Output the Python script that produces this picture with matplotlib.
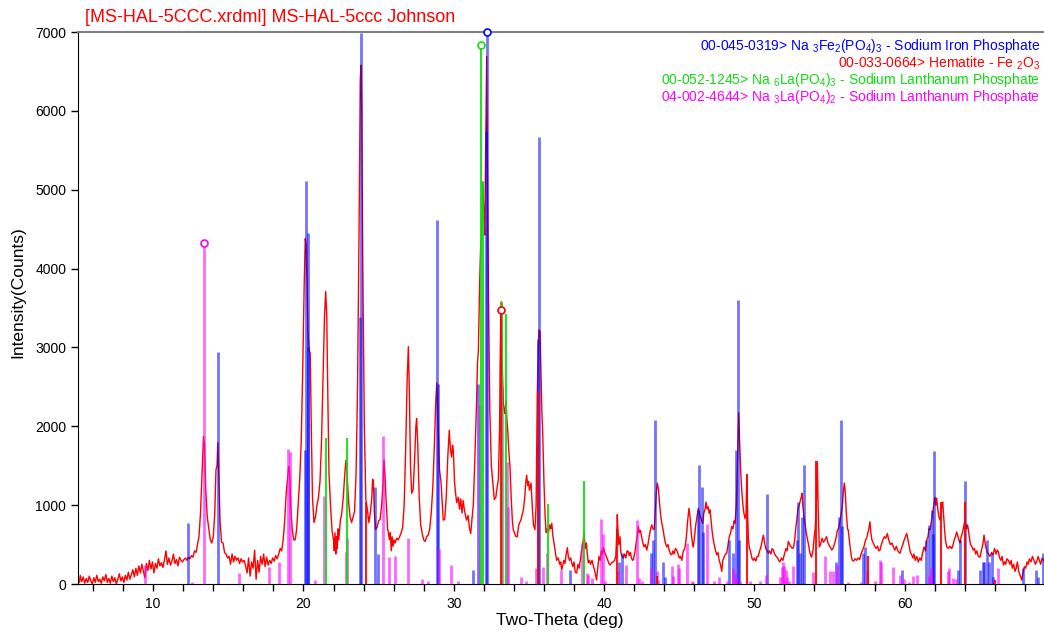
#Draw_xrd_pattern
import matplotlib.pyplot as plt

plt.rcParams['font.family'] = ['Liberation Sans', 'DejaVu Sans']
plt.rcParams['mathtext.fontset'] = 'custom'
plt.rcParams['mathtext.rm'] = 'Liberation Sans'
plt.rcParams['mathtext.default'] = 'rm'
plt.rcParams['axes.unicode_minus'] = False

################  measured pattern (two-theta, counts)
obs_tth = [5.0, 5.1, 5.15, 5.25, 5.35, 5.45, 5.55, 5.65, 5.75, 5.85, 5.95, 6.05, 6.15, 6.25, 6.35, 6.45,
           6.55, 6.65, 6.75, 6.85, 6.95, 7.05, 7.15, 7.25, 7.35, 7.45, 7.55, 7.65, 7.75, 7.85, 7.95, 8.05,
           8.15, 8.25, 8.35, 8.45, 8.55, 8.65, 8.75, 8.85, 8.95, 9.05, 9.15, 9.25, 9.35, 9.45, 9.55, 9.65,
           9.75, 9.85, 9.95, 10.05, 10.15, 10.25, 10.35, 10.45, 10.55, 10.65, 10.75, 10.85, 10.95, 11.05,
           11.15, 11.25, 11.35, 11.45, 11.55, 11.65, 11.75, 11.85, 11.95, 12.05, 12.15, 12.25, 12.35, 12.45,
           12.55, 12.65, 12.75, 12.85, 12.95, 13.05, 13.15, 13.25, 13.35, 13.42, 13.5, 13.6, 13.7, 13.8,
           13.9, 14.0, 14.1, 14.18, 14.25, 14.3, 14.38, 14.45, 14.55, 14.65, 14.75, 14.85, 14.95, 15.05,
           15.15, 15.25, 15.35, 15.45, 15.55, 15.65, 15.75, 15.85, 15.95, 16.05, 16.15, 16.25, 16.35, 16.45,
           16.55, 16.65, 16.75, 16.85, 16.95, 17.05, 17.15, 17.25, 17.35, 17.45, 17.55, 17.65, 17.75, 17.85,
           17.95, 18.05, 18.15, 18.25, 18.35, 18.45, 18.55, 18.65, 18.75, 18.85, 18.95, 19.02, 19.08, 19.15,
           19.25, 19.35, 19.45, 19.55, 19.65, 19.75, 19.85, 19.95, 20.05, 20.12, 20.18, 20.25, 20.3, 20.37,
           20.45, 20.52, 20.6, 20.7, 20.8, 20.9, 21.0, 21.1, 21.2, 21.3, 21.4, 21.48, 21.55, 21.62,
           21.7, 21.8, 21.9, 22.0, 22.05, 22.1, 22.15, 22.2, 22.25, 22.3, 22.35, 22.45, 22.55, 22.65,
           22.75, 22.83, 22.9, 23.0, 23.1, 23.2, 23.3, 23.4, 23.5, 23.6, 23.7, 23.78, 23.83, 23.88,
           23.95, 24.05, 24.15, 24.25, 24.35, 24.45, 24.55, 24.6, 24.65, 24.72, 24.8, 24.9, 25.0, 25.1,
           25.2, 25.3, 25.36, 25.42, 25.5, 25.6, 25.65, 25.72, 25.78, 25.84, 25.9, 25.96, 26.02, 26.1,
           26.2, 26.3, 26.4, 26.5, 26.6, 26.7, 26.8, 26.9, 26.98, 27.05, 27.12, 27.2, 27.3, 27.4,
           27.48, 27.53, 27.6, 27.7, 27.8, 27.9, 28.0, 28.1, 28.2, 28.3, 28.4, 28.5, 28.6, 28.7,
           28.8, 28.87, 28.95, 29.05, 29.15, 29.3, 29.4, 29.5, 29.6, 29.7, 29.78, 29.86, 29.92, 29.97,
           30.05, 30.12, 30.2, 30.3, 30.38, 30.46, 30.55, 30.62, 30.7, 30.8, 30.86, 30.95, 31.05, 31.13,
           31.2, 31.3, 31.4, 31.5, 31.58, 31.64, 31.72, 31.79, 31.85, 31.93, 32.0, 32.06, 32.12, 32.19,
           32.25, 32.32, 32.4, 32.5, 32.6, 32.7, 32.8, 32.9, 32.97, 33.05, 33.1, 33.15, 33.22, 33.3,
           33.37, 33.41, 33.48, 33.53, 33.59, 33.66, 33.74, 33.82, 33.9, 33.96, 34.05, 34.15, 34.23, 34.3,
           34.36, 34.45, 34.55, 34.63, 34.72, 34.8, 34.85, 34.92, 34.98, 35.03, 35.1, 35.14, 35.22, 35.3,
           35.4, 35.48, 35.56, 35.62, 35.67, 35.74, 35.8, 35.86, 35.92, 36.0, 36.07, 36.14, 36.22, 36.3,
           36.38, 36.45, 36.52, 36.6, 36.67, 36.74, 36.8, 36.85, 36.95, 37.05, 37.12, 37.18, 37.25, 37.32,
           37.4, 37.48, 37.56, 37.62, 37.7, 37.78, 37.85, 37.92, 38.0, 38.08, 38.18, 38.26, 38.34, 38.42,
           38.5, 38.58, 38.67, 38.75, 38.82, 38.9, 38.95, 39.02, 39.1, 39.2, 39.3, 39.4, 39.5, 39.58,
           39.66, 39.74, 39.82, 39.9, 39.95, 40.05, 40.15, 40.25, 40.32, 40.4, 40.5, 40.6, 40.7, 40.78,
           40.84, 40.88, 40.92, 40.98, 41.06, 41.12, 41.2, 41.28, 41.36, 41.45, 41.53, 41.61, 41.68, 41.75,
           41.82, 41.9, 41.95, 42.05, 42.12, 42.2, 42.28, 42.35, 42.42, 42.5, 42.58, 42.66, 42.74, 42.84,
           42.92, 43.0, 43.08, 43.17, 43.25, 43.33, 43.4, 43.47, 43.54, 43.62, 43.7, 43.78, 43.84, 43.92,
           44.0, 44.08, 44.17, 44.25, 44.33, 44.42, 44.5, 44.58, 44.66, 44.75, 44.83, 44.92, 45.0, 45.08,
           45.17, 45.25, 45.32, 45.39, 45.48, 45.56, 45.65, 45.72, 45.8, 45.88, 45.94, 46.02, 46.1, 46.18,
           46.27, 46.34, 46.42, 46.5, 46.56, 46.64, 46.72, 46.78, 46.85, 46.92, 47.0, 47.05, 47.12, 47.2,
           47.27, 47.35, 47.42, 47.5, 47.58, 47.66, 47.74, 47.83, 47.9, 48.0, 48.08, 48.16, 48.25, 48.33,
           48.42, 48.5, 48.58, 48.65, 48.71, 48.8, 48.88, 48.96, 49.02, 49.1, 49.16, 49.24, 49.3, 49.38,
           49.45, 49.5, 49.55, 49.6, 49.68, 49.76, 49.85, 49.93, 50.0, 50.1, 50.18, 50.26, 50.35, 50.45,
           50.52, 50.6, 50.68, 50.76, 50.85, 50.93, 51.0, 51.1, 51.18, 51.26, 51.35, 51.45, 51.55, 51.62,
           51.7, 51.8, 51.9, 52.0, 52.1, 52.18, 52.26, 52.35, 52.45, 52.53, 52.6, 52.68, 52.75, 52.82,
           52.9, 52.98, 53.05, 53.12, 53.18, 53.22, 53.3, 53.37, 53.45, 53.52, 53.6, 53.7, 53.8, 53.9,
           53.98, 54.05, 54.12, 54.19, 54.25, 54.32, 54.4, 54.5, 54.6, 54.7, 54.8, 54.9, 55.0, 55.08,
           55.15, 55.25, 55.35, 55.45, 55.52, 55.6, 55.7, 55.78, 55.86, 55.93, 55.99, 56.05, 56.12, 56.2,
           56.25, 56.35, 56.45, 56.52, 56.6, 56.7, 56.8, 56.9, 57.0, 57.1, 57.2, 57.3, 57.4, 57.47,
           57.55, 57.62, 57.69, 57.75, 57.82, 57.91, 58.0, 58.1, 58.2, 58.28, 58.36, 58.45, 58.55, 58.65,
           58.75, 58.85, 58.95, 59.05, 59.15, 59.25, 59.35, 59.45, 59.55, 59.62, 59.69, 59.78, 59.88, 59.95,
           60.05, 60.14, 60.22, 60.3, 60.38, 60.47, 60.55, 60.62, 60.7, 60.8, 60.91, 61.0, 61.1, 61.2,
           61.29, 61.38, 61.46, 61.55, 61.62, 61.69, 61.78, 61.86, 61.94, 62.02, 62.08, 62.13, 62.2, 62.28,
           62.36, 62.42, 62.48, 62.53, 62.58, 62.65, 62.72, 62.8, 62.9, 63.0, 63.08, 63.13, 63.22, 63.3,
           63.38, 63.46, 63.55, 63.62, 63.68, 63.76, 63.84, 63.92, 64.01, 64.06, 64.12, 64.18, 64.23, 64.3,
           64.38, 64.46, 64.56, 64.65, 64.72, 64.8, 64.9, 65.01, 65.1, 65.2, 65.28, 65.35, 65.42, 65.5,
           65.58, 65.68, 65.78, 65.88, 65.98, 66.08, 66.16, 66.23, 66.32, 66.4, 66.48, 66.57, 66.65, 66.72,
           66.8, 66.9, 67.0, 67.08, 67.16, 67.25, 67.34, 67.42, 67.5, 67.6, 67.7, 67.79, 67.88, 67.96,
           68.05, 68.14, 68.22, 68.3, 68.4, 68.5, 68.6, 68.7, 68.79, 68.88, 68.96, 69.05, 69.15, 69.23,
           69.3]
obs_cnt = [60, 20, 110, 30, 90, 10, 70, 20, 100, 40, 0, 80, 20, 110, 30, 60,
           10, 90, 40, 120, 20, 70, 10, 100, 30, 80, 0, 60, 130, 40, 90, 20,
           110, 50, 150, 60, 120, 180, 90, 200, 110, 230, 140, 250, 160, 80, 260, 170,
           300, 190, 280, 140, 260, 200, 320, 230, 270, 210, 300, 420, 250, 330,
           240, 290, 380, 260, 310, 230, 340, 300, 280, 310, 330, 300, 340, 320,
           360, 340, 420, 400, 500, 600, 900, 1400, 1870, 1750, 1200, 850, 700, 560,
           520, 600, 900, 1450, 1500, 1790, 1300, 800, 530, 520, 400, 380, 330, 350,
           250, 380, 280, 350, 300, 330, 260, 320, 280, 300, 230, 140, 330, 100,
           280, 200, 430, 60, 300, 150, 350, 250, 380, 220, 340, 240, 300, 260,
           330, 290, 360, 320, 380, 450, 420, 560, 800, 1150, 1350, 1490, 1420, 1000,
           700, 560, 560, 700, 1000, 1320, 1800, 2700, 3800, 4380, 4300, 3700, 3200, 2970,
           2930, 2000, 1100, 780, 850, 1000, 1100, 1300, 1800, 2600, 3400, 3710, 3400, 2400,
           1400, 1000, 680, 560, 420, 650, 380, 600, 450, 700, 560, 800, 900, 1100,
           1400, 1570, 1400, 1050, 850, 780, 850, 920, 1400, 2500, 4500, 6400, 6580, 6000,
           4000, 2000, 1070, 950, 780, 900, 1100, 1330, 1300, 900, 690, 720, 800, 820,
           1000, 1300, 1570, 1400, 1050, 700, 650, 560, 650, 420, 600, 480, 560, 520,
           580, 560, 600, 650, 720, 1000, 1700, 2600, 3010, 2400, 1500, 1150, 1200, 1600,
           2000, 2100, 1800, 1100, 750, 640, 560, 540, 600, 620, 700, 900, 1200, 1700,
           2300, 2550, 2100, 1450, 1300, 810, 820, 1100, 1600, 1950, 1700, 1610, 1760, 1700,
           1300, 1150, 1030, 1100, 950, 1080, 900, 1060, 950, 850, 810, 870, 700, 640,
           800, 1000, 1570, 2200, 2800, 2970, 3800, 4280, 4400, 5100, 4700, 4425, 5500, 6690,
           5000, 3500, 2200, 1500, 1280, 1070, 1100, 1250, 1320, 2000, 3000, 3580, 2800, 2290,
           2200, 2160, 2330, 2100, 1950, 1700, 1490, 1100, 800, 690, 640, 600, 600, 720,
           770, 800, 880, 940, 1100, 1300, 1380, 1250, 1300, 1190, 1250, 1280, 1000, 750,
           690, 1000, 2420, 3000, 3220, 3200, 2700, 2200, 1900, 1300, 900, 650, 700, 650,
           750, 700, 770, 600, 520, 430, 350, 300, 330, 250, 280, 180, 230, 300,
           260, 380, 460, 350, 300, 330, 270, 220, 280, 150, 140, 250, 200, 300,
           420, 500, 650, 450, 520, 350, 270, 300, 250, 300, 220, 150, 50, 200,
           350, 300, 420, 380, 460, 400, 350, 300, 260, 240, 270, 280, 300, 350,
           600, 880, 700, 500, 600, 400, 350, 330, 380, 330, 420, 410, 360, 400,
           330, 300, 310, 400, 500, 600, 730, 650, 680, 600, 520, 470, 500, 430,
           500, 600, 680, 750, 700, 690, 900, 1150, 1280, 1200, 1000, 850, 770, 700,
           600, 520, 470, 500, 430, 380, 370, 420, 380, 450, 430, 380, 330, 350,
           300, 400, 430, 470, 600, 800, 960, 850, 650, 520, 470, 600, 750, 850,
           960, 900, 850, 800, 770, 900, 950, 1040, 950, 980, 900, 940, 800, 650,
           560, 480, 420, 370, 400, 300, 250, 160, 300, 350, 380, 390, 500, 600,
           650, 730, 700, 800, 770, 1000, 1600, 2170, 1800, 1400, 1190, 1000, 900, 830,
           900, 1380, 900, 560, 450, 400, 320, 300, 330, 290, 350, 350, 420, 480,
           550, 620, 520, 450, 420, 390, 420, 380, 450, 430, 380, 350, 330, 300,
           280, 330, 300, 380, 450, 420, 540, 500, 470, 450, 460, 550, 700, 810,
           950, 1000, 1050, 1100, 1150, 1000, 850, 770, 650, 580, 500, 390, 340, 420,
           600, 700, 1000, 1550, 900, 470, 500, 580, 530, 560, 600, 520, 480, 460,
           430, 460, 520, 600, 680, 700, 800, 900, 1000, 1200, 1280, 1150, 900, 700,
           680, 500, 350, 300, 290, 320, 300, 330, 310, 380, 430, 480, 560, 580,
           650, 700, 790, 650, 560, 520, 480, 450, 480, 420, 430, 500, 560, 600,
           580, 640, 550, 500, 520, 470, 430, 480, 420, 400, 390, 450, 500, 550,
           600, 640, 560, 480, 400, 370, 330, 380, 300, 350, 280, 330, 300, 400,
           470, 420, 550, 600, 700, 690, 800, 900, 1000, 1100, 1000, 1090, 950, 850,
           810, 900, 1000, 1040, 900, 700, 550, 470, 450, 480, 460, 450, 500, 560,
           600, 660, 600, 550, 520, 600, 650, 720, 810, 750, 700, 750, 700, 600,
           500, 480, 430, 450, 380, 420, 350, 340, 420, 500, 620, 520, 450, 400,
           380, 350, 400, 370, 450, 380, 430, 410, 330, 300, 350, 240, 280, 250,
           320, 300, 250, 300, 200, 250, 160, 200, 280, 150, 100, 50, 150, 220,
           200, 280, 250, 320, 280, 350, 300, 250, 290, 350, 300, 250, 330, 300,
           280]

################  reference patterns (stick positions / heights)
# 00-045-0319  Na3Fe2(PO4)3
nfp_tth = [12.35, 14.3, 20.12, 20.2, 20.27, 20.33, 23.76, 23.82, 24.76, 24.98, 28.87, 28.93,
           31.3, 31.64, 32.15, 32.2, 35.6, 35.65, 37.75, 41.02, 41.17, 43.12, 43.28, 43.39,
           43.95, 44.06, 46.27, 46.34, 46.5, 46.56, 48.33, 48.6, 48.78, 48.93, 49.0, 50.82,
           52.82, 52.89, 53.03, 53.14, 53.28, 55.43, 55.63, 55.76, 55.85, 57.25, 57.36, 59.8,
           61.42, 61.64, 61.8, 61.87, 61.97, 63.53, 63.68, 63.99, 65.01, 65.23, 65.3, 65.46,
           65.6, 65.84, 65.9, 67.9, 68.74, 68.9, 69.23]
nfp_int = [770, 2940, 1700, 5110, 3000, 4450, 3390, 6990, 1230, 380, 4620, 2540,
           180, 2540, 5750, 7000, 3110, 5670, 180, 280, 390, 390, 560, 2080,
           280, 90, 940, 1510, 1230, 660, 560, 390, 1700, 3600, 560, 1140,
           560, 1040, 390, 850, 1510, 280, 850, 2080, 730, 390, 470, 180,
           560, 750, 940, 640, 1690, 180, 560, 1310, 180, 280, 280, 560,
           280, 390, 90, 200, 180, 90, 390]

# 00-033-0664  Hematite
hem_tth = [24.14, 33.15, 35.61, 40.85, 43.52, 49.48, 54.09, 57.59, 62.45, 64.02, 66.03]
hem_int = [1040, 3470, 2430, 700, 100, 1390, 1560, 350, 1040, 1040, 50]

# 00-052-1245  Na6La(PO4)3
n6l_tth = [21.48, 22.87, 31.81, 31.93, 33.19, 33.48, 36.29, 38.69]
n6l_int = [1850, 1850, 6840, 5100, 3580, 3430, 1020, 1300]

# 04-002-4644  Na3La(PO4)2
n3l_tth = [9.46, 12.6, 13.38, 15.71, 17.73, 18.35, 18.95, 19.1, 20.8, 21.37, 22.81, 22.92,
           25.31, 25.67, 26.1, 26.98, 27.9, 28.3, 29.04, 29.82, 30.3, 31.75, 33.19, 33.52,
           33.63, 34.45, 34.8, 35.47, 35.95, 36.21, 37.11, 38.51, 38.84, 38.95, 39.2, 39.78,
           39.91, 40.05, 40.95, 41.44, 42.17, 42.3, 42.55, 43.1, 43.54, 43.6, 44.5, 44.6,
           44.9, 45.0, 45.5, 45.85, 45.95, 46.83, 47.3, 47.65, 48.2, 48.6, 48.7, 48.8,
           49.05, 49.7, 50.35, 50.8, 51.7, 51.82, 51.92, 52.0, 52.1, 52.2, 52.3, 52.6,
           53.92, 54.7, 55.0, 55.22, 55.48, 56.2, 57.1, 57.47, 58.0, 58.36, 58.45, 59.25,
           59.7, 59.95, 60.3, 60.55, 60.85, 61.65, 61.72, 62.9, 62.98, 63.2, 63.4, 65.4,
           66.23]
n3l_int = [240, 30, 4320, 135, 220, 280, 1710, 1680, 50, 1120, 410, 580,
           1880, 340, 350, 580, 60, 40, 450, 240, 40, 2270, 2500, 1550,
           980, 90, 40, 200, 220, 390, 180, 520, 140, 120, 80, 820,
           640, 40, 160, 240, 810, 80, 40, 200, 160, 50, 230, 100,
           250, 200, 520, 40, 30, 760, 40, 90, 40, 200, 130, 80,
           40, 40, 40, 120, 90, 220, 280, 230, 180, 90, 40, 230,
           150, 360, 160, 170, 240, 30, 30, 170, 40, 300, 280, 210,
           120, 60, 20, 100, 110, 100, 200, 160, 200, 80, 60, 30,
           200]

title = '[MS-HAL-5CCC.xrdml] MS-HAL-5ccc Johnson'
legend_lines = [
    ('00-045-0319> Na $_3$Fe$_2$(PO$_4$)$_3$ - Sodium Iron Phosphate', 'blue', 46),
    ('00-033-0664> Hematite - Fe $_2$O$_3$', 'red', 63),
    ('00-052-1245> Na $_6$La(PO$_4$)$_3$ - Sodium Lanthanum Phosphate', '#11dd11', 80),
    ('04-002-4644> Na $_3$La(PO$_4$)$_2$ - Sodium Lanthanum Phosphate', 'magenta', 97),
]

W, H = 1044, 632
fig = plt.figure(figsize=(W / 100, H / 100), dpi=100)
ax = fig.add_axes([78 / W, 48 / H, 1 - 78 / W, 552 / H])

### measured curve
ax.plot(obs_tth, obs_cnt, color='red', lw=1.0, zorder=2)

### sticks
ax.vlines(nfp_tth, 0, nfp_int, color='blue', lw=2.0, alpha=0.55, zorder=3)
ax.vlines(n3l_tth, 0, n3l_int, color='magenta', lw=2.0, alpha=0.6, zorder=3)
ax.vlines(n6l_tth, 0, n6l_int, color='#11dd11', lw=1.5, alpha=0.9, zorder=3)
ax.vlines(hem_tth, 0, hem_int, color='red', lw=1.5, alpha=0.9, zorder=3)

### circle on strongest line of each card
for tt, ii, c in [(nfp_tth, nfp_int, 'blue'), (hem_tth, hem_int, 'red'),
                  (n6l_tth, n6l_int, '#11dd11'), (n3l_tth, n3l_int, 'magenta')]:
    k = ii.index(max(ii))
    ax.plot([tt[k]], [ii[k]], 'o', ms=5, mfc='white', mec=c, mew=1.2, zorder=4, clip_on=False)

### axes setting
ax.set_xlim(5, 69.27)
ax.set_ylim(0, 7000)
ax.set_xticks(range(10, 70, 10))
ax.set_xticks(range(6, 70, 2), minor=True)
ax.set_yticks(range(0, 7001, 1000))
ax.tick_params(axis='both', which='both', direction='out', length=5, width=1,
               labelsize=10, color='black')
ax.tick_params(axis='x', pad=4)
ax.spines['right'].set_visible(False)
ax.spines['top'].set_color('#808080')
ax.spines['top'].set_linewidth(1.5)

fig.text(18 / W, 1 - 292 / H, 'Intensity(Counts)', rotation=90, fontsize=12.5,
         ha='center', va='center')
fig.text(560 / W, 1 - 620 / H, 'Two-Theta (deg)', fontsize=12.5, ha='center', va='center')
fig.text(85 / W, 1 - 18 / H, title, color='red', fontsize=13, ha='left', va='center')

### card labels, right aligned so they stay inside the picture
for txt, c, y in legend_lines:
    fig.text(1040 / W, 1 - y / H, txt, color=c, fontsize=10, ha='right', va='center')

fig.savefig('out.png', dpi=100)
